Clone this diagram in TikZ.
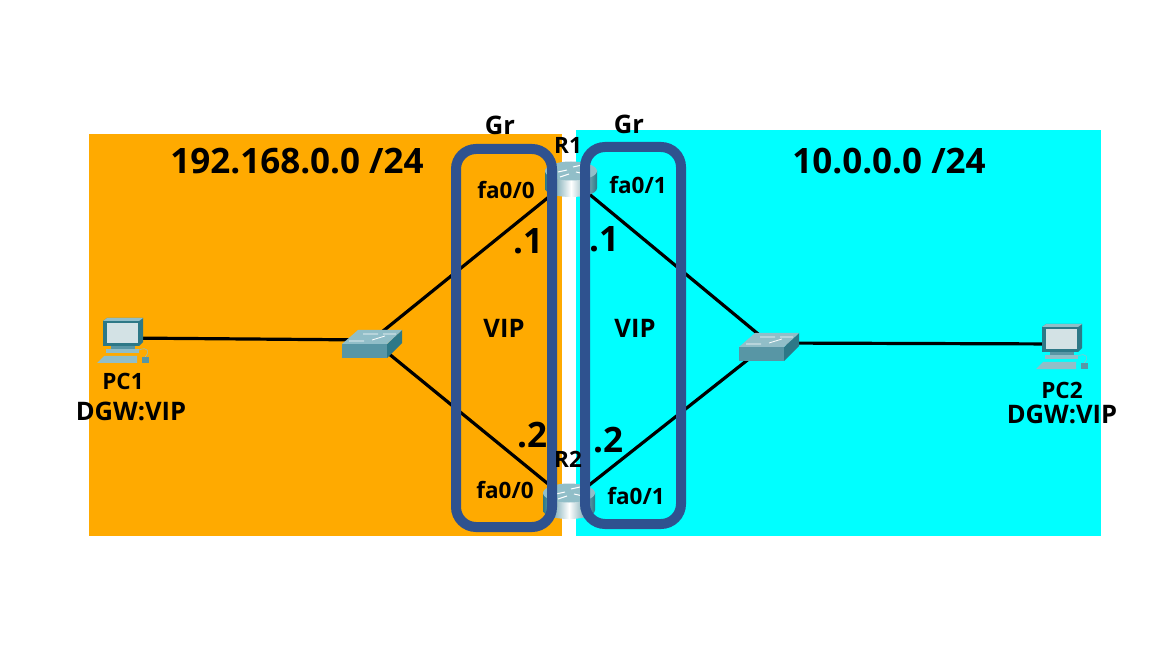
\documentclass[tikz,border=0pt]{standalone}
\usepackage{fontspec}
\setmainfont[BoldFont={Open Sans Bold}]{Open Sans}
\usepackage{tikz}
\usetikzlibrary{positioning}

\definecolor{netorange}{RGB}{255,170,0}
\definecolor{netcyan}{RGB}{0,255,255}
\definecolor{grpblue}{RGB}{47,82,143}
\definecolor{iconteal}{RGB}{88,150,165}
\definecolor{icondark}{RGB}{45,120,135}
\definecolor{iconlight}{RGB}{145,190,200}

\tikzset{
	link/.style={line width=3.2pt, black},
	grp/.style={draw=grpblue, line width=10pt, rounded corners=20pt, inner sep=0pt, outer sep=0pt, minimum width=96pt},
	anchorpt/.style={inner sep=0pt, minimum size=1pt},
	lbl/.style={inner sep=0pt, font=\fontsize{25.5}{28}\selectfont\bfseries},
	small/.style={inner sep=0pt, font=\fontsize{22.5}{25}\selectfont\bfseries},
	big/.style={inner sep=0pt, font=\fontsize{35}{38}\selectfont\bfseries},
	host/.pic={
		\fill[icondark] (-21,-17) -- (-17,-20) -- (19,-20) -- (19,4) -- (15,8) -- (-21,8) -- cycle;
		\fill[iconlight] (-21,-17) -- (-17,-20) -- (19,-20) -- (15,-17) -- cycle;
		\fill[black!10!iconlight!35!white] (-17,-15) rectangle (14,5);
		\fill[iconteal] (-13,8) rectangle (11,11);
		\fill[iconlight] (-18,11) rectangle (15,15);
		\fill[iconlight] (-27,25) -- (-20,18) -- (13,18) -- (13,25) -- cycle;
		\fill[iconteal] (18,19) rectangle (25,25);
		\draw[iconlight, line width=0.6pt] (15,12) .. controls (24,8) and (26,14) .. (21,19);
	},
	hub/.pic={
		\fill[iconteal] (-30,2) rectangle (15,16);
		\fill[icondark] (15,2) -- (30,-12) -- (30,1) -- (15,16) -- cycle;
		\fill[iconlight] (-30,2) -- (-14,-12) -- (30,-12) -- (15,2) -- cycle;
		\draw[white, line width=0.8pt] (-9,-8) -- (6,-8) (11,-8) -- (24,-8) (-23,-1) -- (-8,-1) (0,-2) -- (13,-6);
	},
	router/.pic={
		\shade[left color=icondark, right color=icondark, middle color=white]
			(-26,-8) -- (-26,9) .. controls (-26,21) and (26,21) .. (26,9) -- (26,-8) -- cycle;
		\fill[iconlight] (0,-8) ellipse [x radius=26pt, y radius=9.5pt];
		\draw[white, line width=1pt] (-13,-7) -- (-4,-9) (2,-12) -- (11,-14) (-11,-2) -- (-2,-5) (5,-7) -- (14,-5);
	}
}

\begin{document}
\begin{tikzpicture}[x=1pt, y=-1pt]
	
	\fill[white] (0,0) rectangle (1173,660);
	\fill[netorange] (89,134) rectangle (562,536);
	\fill[netcyan] (576,130) rectangle (1101,536);
	
	\node[anchorpt] (pc1) at (124,338) {};
	\node[anchorpt] (sw1) at (372,340) {};
	\node[anchorpt] (r1) at (571,179) {};
	\node[anchorpt] (r2) at (569,501) {};
	\node[anchorpt] (sw2) at (769,343) {};
	\node[anchorpt] (pc2) at (1063,344) {};
	
	\draw[link]
	(pc1) edge (sw1)
	(sw1) edge (r1)
	(sw1) edge (r2)
	(r1) edge (sw2)
	(r2) edge (sw2)
	(sw2) edge (pc2);
	
	\pic at (pc1) {host};
	\pic at (pc2) {host};
	\pic at (372,342) {hub};
	\pic at (769,345) {hub};
	\pic at (r1) {router};
	\pic at (r2) {router};
	
	\node[grp, minimum height=378pt] (gr1) at (504,338) {};
	\node[grp, minimum height=377pt] (gr2) at (633,335.5) {};
	
	\node[big] (net1) at (297,161) {192.168.0.0 /24};
	\node[big] (net2) at (889,161) {10.0.0.0 /24};
	
	\node[lbl] (gr1lbl) at (500,125) {Gr};
	\node[lbl] (gr2lbl) at (629,124) {Gr};
	\node[small] (r1lbl) at (568,145) {R1};
	\node[small] (r2lbl) at (568,459) {R2};
	
	\node[small] (fa1) at (506,190) {fa0/0};
	\node[small] (fa2) at (638,185) {fa0/1};
	\node[small] (fa3) at (505,490) {fa0/0};
	\node[small] (fa4) at (636,496) {fa0/1};
	
	\node[big] (ip1) at (528,241) {.1};
	\node[big] (ip2) at (604,239) {.1};
	\node[big] (ip3) at (532,435) {.2};
	\node[big] (ip4) at (608,440) {.2};
	
	\node[lbl] (vip1) at (504,328) {VIP};
	\node[lbl] (vip2) at (635,328) {VIP};
	
	\node[small] (pc1lbl) at (123,381) {PC1};
	\node[lbl] (dgw1) at (131,411) {DGW:VIP};
	\node[small] (pc2lbl) at (1062,390) {PC2};
	\node[lbl] (dgw2) at (1062,414) {DGW:VIP};
	
\end{tikzpicture}
\end{document}
